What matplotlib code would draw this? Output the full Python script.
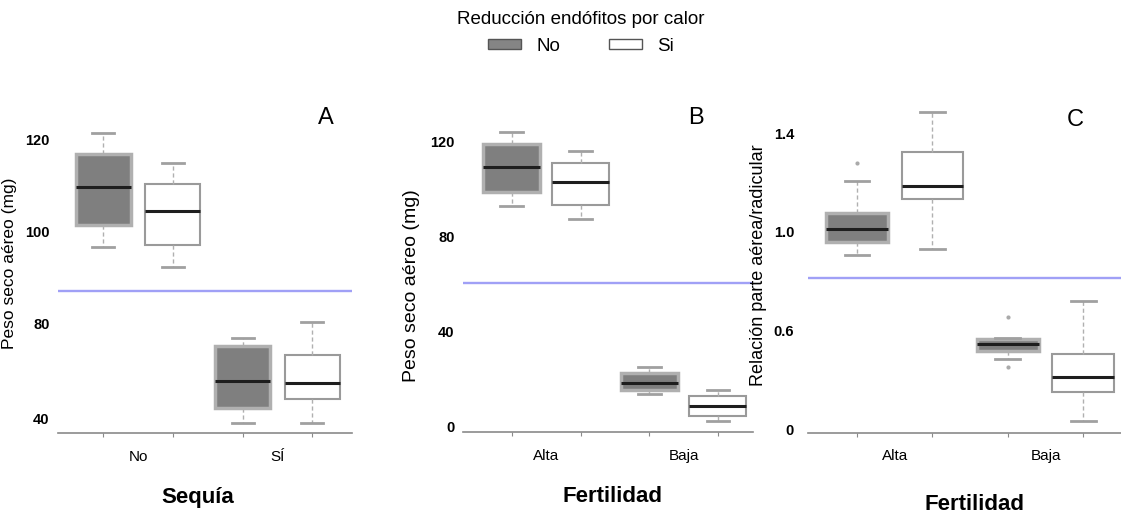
import matplotlib
matplotlib.use("Agg")
import matplotlib.pyplot as plt
from matplotlib.patches import Patch
import numpy as np

plt.rcParams['font.family'] = ['Liberation Sans', 'DejaVu Sans']
NARROW = ['Liberation Sans Narrow', 'Liberation Sans']

# box statistics: whislo, q1, med, q3, whishi  (order: grupo1-No, grupo1-Si, grupo2-No, grupo2-Si)
a_stats = [
    [96.6, 101.4, 109.6, 117.0, 121.4],
    [92.2, 97.1, 104.5, 110.4, 115.0],
    [38.2, 44.3, 55.6, 70.3, 73.6],
    [38.2, 48.0, 55.0, 66.4, 80.3],
]
a_fliers = [[], [], [], []]
a_groups = ['No', 'SÍ']
a_ticks = [40, 80, 100, 120]
a_line = 87.0

b_stats = [
    [93.1, 98.9, 109.5, 118.9, 124.2],
    [87.6, 93.6, 103.2, 110.9, 116.1],
    [14.0, 15.4, 18.3, 22.5, 25.3],
    [2.4, 4.5, 8.7, 12.9, 15.4],
]
b_fliers = [[], [], [], []]
b_groups = ['Alta', 'Baja']
b_ticks = [0, 40, 80, 120]
b_line = 60.4

c_stats = [
    [0.905, 0.959, 1.012, 1.077, 1.207],
    [0.928, 1.134, 1.186, 1.323, 1.487],
    [0.424, 0.476, 0.516, 0.546, 0.550],
    [0.054, 0.226, 0.320, 0.454, 0.719],
]
c_fliers = [[1.278], [], [0.652, 0.380], []]
c_groups = ['Alta', 'Baja']
c_ticks = [0, 0.6, 1.0, 1.4]
c_line = 0.81

legend_labels = ['No', 'Si']
legend_title = 'Reducción endófitos por calor'
xtitles = ['Sequía', 'Fertilidad', 'Fertilidad']
letters = ['A', 'B', 'C']


def piecewise(brk, ratio):
    # compress the axis below brk by ratio
    def fwd(y):
        y = np.asarray(y, dtype=float)
        return np.where(y >= brk, y, brk + (y - brk) * ratio)

    def inv(y):
        y = np.asarray(y, dtype=float)
        return np.where(y >= brk, y, brk + (y - brk) / ratio)
    return fwd, inv


def draw_panel(ax, stats, fliers, groups, ticks, line, box_w):
    bx = []
    for s, f in zip(stats, fliers):
        bx.append(dict(whislo=s[0], q1=s[1], med=s[2], q3=s[3], whishi=s[4], fliers=f))
    pos = [1, 2, 3, 4]
    res = ax.bxp(bx, positions=pos, widths=box_w, patch_artist=True,
                 capwidths=box_w * 0.4,
                 medianprops=dict(color='#1e1e1e', lw=2.2),
                 whiskerprops=dict(color='#b0b0b0', lw=1, linestyle=(0, (3, 2))),
                 capprops=dict(color='#a0a0a0', lw=2),
                 flierprops=dict(marker='o', ms=3, mfc='#aaaaaa', mec='none'))
    for i, b in enumerate(res['boxes']):
        if i % 2 == 0:
            b.set_facecolor('#7f7f7f')
            b.set_edgecolor('#b0b0b0')
            b.set_linewidth(2.5)
        else:
            b.set_facecolor('white')
            b.set_edgecolor('#9a9a9a')
            b.set_linewidth(1.5)
    ax.axhline(line, color='#a0a0f6', lw=1.7, zorder=0)

    for sp in ['left', 'top', 'right']:
        ax.spines[sp].set_visible(False)
    ax.spines['bottom'].set_color('#8a8a8a')
    ax.spines['bottom'].set_linewidth(1.2)

    ax.set_xticks(pos)
    ax.set_xticklabels([])
    ax.tick_params(axis='x', which='major', length=3, color='#8a8a8a')
    ax.set_xticks([1.5, 3.5], minor=True)
    ax.set_xticklabels(groups, minor=True, family=NARROW, fontsize=11)
    ax.tick_params(axis='x', which='minor', length=0, pad=12)

    ax.set_yticks(ticks)
    ax.set_yticklabels([str(t) for t in ticks], family=NARROW,
                       fontweight='bold', fontsize=10.5)
    ax.tick_params(axis='y', length=0)


fig = plt.figure(figsize=(11.21, 5.15), dpi=100)
W, H = 1121, 515

# panel A
axA = fig.add_axes([58 / W, 1 - 433 / H, 294 / W, 338 / H])
fA, iA = piecewise(80, 0.52)
axA.set_yscale('function', functions=(fA, iA))
draw_panel(axA, a_stats, a_fliers, a_groups, a_ticks, a_line, 0.79)
axA.set_xlim(0.35, 4.57)
axA.set_ylim(33.8, 129.8)
axA.tick_params(axis='y', pad=6)
axA.set_ylabel('Peso seco aéreo (mg)', fontsize=12.5)
axA.yaxis.set_label_coords(-0.139, 0.503)

# panel B
axB = fig.add_axes([463 / W, 1 - 432.3 / H, 290 / W, 337.3 / H])
draw_panel(axB, b_stats, b_fliers, b_groups, b_ticks, b_line, 0.83)
axB.set_xlim(0.29, 4.51)
axB.set_ylim(-2.3, 139.7)
axB.tick_params(axis='y', pad=6)
axB.set_ylabel('Peso seco aéreo (mg)', fontsize=14)
axB.yaxis.set_label_coords(-0.148, 0.434)

# panel C
axC = fig.add_axes([808 / W, 1 - 432.7 / H, 313 / W, 337.7 / H])
fC, iC = piecewise(0.6, 0.677)
axC.set_yscale('function', functions=(fC, iC))
draw_panel(axC, c_stats, c_fliers, c_groups, c_ticks, c_line, 0.82)
axC.set_xlim(0.35, 4.5)
axC.set_ylim(-0.0167, 1.556)
axC.tick_params(axis='y', pad=10)
axC.set_ylabel('Relación parte aérea/radicular', fontsize=13)
axC.yaxis.set_label_coords(-0.131, 0.497)

# panel letters and bottom titles
for (x, y), s in zip([(326, 118), (696, 118), (1075, 120)], letters):
    fig.text(x / W, 1 - y / H, s, fontsize=17, ha='center', va='center')
for (x, y), s in zip([(198, 498), (612, 497), (975, 504)], xtitles):
    fig.text(x / W, 1 - y / H, s, fontsize=16, fontweight='bold',
             ha='center', va='center')

handles = [Patch(facecolor='#858585', edgecolor='#555555', lw=1),
           Patch(facecolor='white', edgecolor='#555555', lw=1)]
fig.legend(handles, legend_labels, title=legend_title, loc='upper center',
           bbox_to_anchor=(581 / W, 1.0), ncol=2, frameon=False,
           fontsize=13.5, title_fontsize=13.5, handlelength=1.76,
           handleheight=0.45, handletextpad=0.8, columnspacing=2.6,
           borderaxespad=0.2)

fig.savefig('out.png', dpi=100)
